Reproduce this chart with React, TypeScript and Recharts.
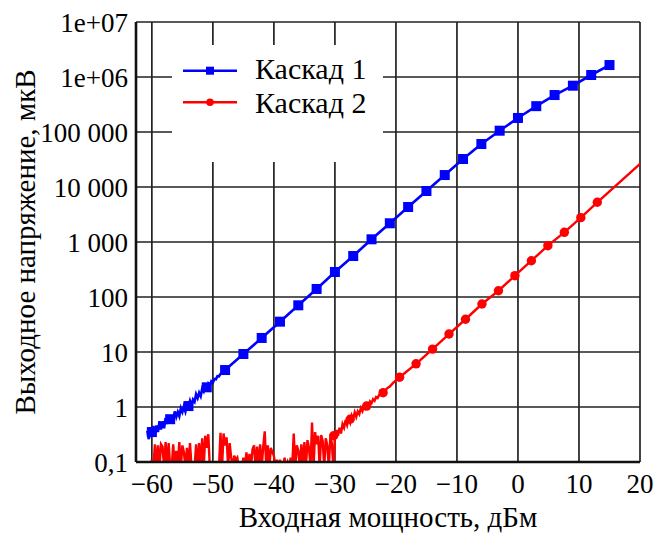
import React from 'react';
import { LineChart, Line, XAxis, YAxis, CartesianGrid, Legend, Label } from 'recharts';

const FONT = 'Liberation Serif';
const BLUE = '#0000ff';
const RED = '#ff0000';

// Axis ticks and their printed labels
const xTicks = [-60, -50, -40, -30, -20, -10, 0, 10, 20];
const xTickLabels = ['−60', '−50', '−40', '−30', '−20', '−10', '0', '10', '20'];
const yTicks = [0.1, 1, 10, 100, 1000, 10000, 100000, 1e6, 1e7];
const yTickLabels = ['0,1', '1', '10', '100', '1 000', '10 000', '100 000', '1e+06', '1e+07'];

// Sampling step of the dense (noisy) parts of the traces, dBm
const traceStep = 0.25;

// Каскад 1 — measured points (input power, dBm / output voltage, µV)
const cascade1Power = [-60, -57, -54, -51, -48, -45, -42, -39, -36, -33, -30, -27, -24, -21, -18, -15, -12, -9, -6, -3, 0, 3, 6, 9, 12, 15];
const cascade1Voltage = [0.35, 0.6, 1.04, 2.28, 4.7, 9.2, 18, 35.6, 70.6, 140, 285, 556, 1120, 2190, 4330, 8460, 16500, 32300, 60500, 105600, 180000, 295000, 470000, 695000, 1087000, 1650000];

// Каскад 1 — noisy low-level trace from -60.75 to -48 dBm
const cascade1NoiseStart = -60.75;
const cascade1Noise = [
  0.37, 0.26, 0.43, 0.3, 0.45, 0.31, 0.46, 0.35, 0.55, 0.39, 0.55, 0.41,
  0.63, 0.49, 0.68, 0.5, 0.71, 0.58, 0.83, 0.66, 0.81, 0.68, 0.95, 0.81,
  1.02, 0.83, 1.1, 1.0, 1.29, 1.06, 1.36, 1.24, 1.7, 1.45, 1.81, 1.57,
  2.16, 1.92, 2.4, 2.14, 2.67, 2.45, 2.93, 2.77, 3.23, 3.2, 3.63, 3.61,
  4.0, 4.06, 4.46, 4.7,
];

// Каскад 2 — measured points
const cascade2Power = [-30.2, -27.5, -24.8, -22.1, -19.4, -16.7, -14.0, -11.3, -8.6, -5.9, -3.2, -0.5, 2.2, 4.9, 7.6, 10.3, 13.0];
const cascade2Voltage = [0.3, 0.6, 1.04, 1.82, 3.47, 6.1, 11.3, 21.2, 39.4, 74.6, 130, 244, 457, 857, 1500, 2770, 5270];

// Каскад 2 — noise floor and noisy rise, -60.25 … -22 dBm
const cascade2NoiseStart = -60.25;
const cascade2Noise = [
  0.08,
  0.11, 0.08, 0.21, 0.08,
  0.2, 0.08, 0.21, 0.19,
  0.08, 0.23, 0.08, 0.22,
  0.08, 0.08, 0.21, 0.08,
  0.16, 0.08, 0.23, 0.08,
  0.2, 0.15, 0.08, 0.18,
  0.08, 0.22, 0.08, 0.08,
  0.08, 0.21, 0.08, 0.22,
  0.08, 0.27, 0.08, 0.3,
  0.18, 0.32, 0.08, 0.08,
  0.08, 0.08, 0.08, 0.08,
  0.08, 0.34, 0.08, 0.33,
  0.2, 0.28, 0.08, 0.22,
  0.12, 0.08, 0.13, 0.11,
  0.12, 0.08, 0.08, 0.08,
  0.12, 0.08, 0.15, 0.08,
  0.14, 0.08, 0.17, 0.2,
  0.08, 0.19, 0.08, 0.21,
  0.08, 0.19, 0.36, 0.08,
  0.2, 0.08, 0.18, 0.15,
  0.13, 0.08, 0.11, 0.08,
  0.11, 0.08, 0.08, 0.12,
  0.08, 0.1, 0.08, 0.12,
  0.08, 0.33, 0.08, 0.2,
  0.16, 0.08, 0.21, 0.08,
  0.23, 0.08, 0.25, 0.18,
  0.08, 0.52, 0.08, 0.35,
  0.21, 0.3, 0.08, 0.31,
  0.24, 0.08, 0.27, 0.2,
  0.08, 0.29, 0.22, 0.08,
  // rise out of the noise
  0.28, 0.38, 0.3, 0.42, 0.33, 0.49, 0.42, 0.58, 0.47, 0.62, 0.52, 0.71,
  0.62, 0.8, 0.66, 0.83, 0.74, 0.96, 0.84, 1.04, 0.95, 1.13, 1.03, 1.26,
  1.17, 1.39, 1.3, 1.52, 1.46, 1.66, 1.64, 1.82, 1.78,
];
const cascade2TailPower = [-21.5, -21, -20.5, -20];
const cascade2TailVoltage = [2.16, 2.36, 2.72, 3.06];
const cascade2EndPower = 20;
const cascade2EndVoltage = 26200;

type Pt = { x: number; y: number };

const zip = (xs: number[], ys: number[]): Pt[] => xs.map((x, i) => ({ x, y: ys[i] }));
const dense = (start: number, ys: number[]): Pt[] => ys.map((y, i) => ({ x: start + i * traceStep, y }));

const cascade1Markers = zip(cascade1Power, cascade1Voltage);
const cascade1NoisePts = dense(cascade1NoiseStart, cascade1Noise);
const cascade1Trace = [
  ...cascade1NoisePts,
  ...cascade1Markers.filter((p) => p.x > cascade1NoisePts[cascade1NoisePts.length - 1].x),
];

const cascade2Markers = zip(cascade2Power, cascade2Voltage);
const cascade2NoisePts = dense(cascade2NoiseStart, cascade2Noise);
const cascade2Trace = [
  ...cascade2NoisePts,
  ...zip(cascade2TailPower, cascade2TailVoltage),
  ...cascade2Markers.filter((p) => p.x > -20),
  { x: cascade2EndPower, y: cascade2EndVoltage },
];

const fmtX = (v: number) => {
  const i = xTicks.indexOf(v);
  return i >= 0 ? xTickLabels[i] : String(v);
};
const fmtY = (v: number) => {
  const i = yTicks.findIndex((t) => Math.abs(t - v) / t < 1e-6);
  return i >= 0 ? yTickLabels[i] : String(v);
};

const SquareDot = (p: any) => {
  if (p.cx == null || p.cy == null) return <g key={p.key ?? p.index} />;
  return <rect key={p.key ?? p.index} x={p.cx - 5} y={p.cy - 5} width={10} height={10} fill={BLUE} />;
};
const RoundDot = (p: any) => {
  if (p.cx == null || p.cy == null) return <g key={p.key ?? p.index} />;
  return <circle key={p.key ?? p.index} cx={p.cx} cy={p.cy} r={4.7} fill={RED} />;
};

const LegendBox = () => (
  <svg width={211} height={117} style={{ display: 'block' }}>
    <rect x={0} y={0} width={211} height={117} fill="#fff" />
    <line x1={11} x2={65} y1={25.7} y2={25.7} stroke={BLUE} strokeWidth={2.5} />
    <rect x={34} y={21.7} width={8} height={8} fill={BLUE} />
    <text x={83} y={34} fontFamily={FONT} fontSize={30} fill="#000">Каскад 1</text>
    <line x1={11} x2={65} y1={57.3} y2={57.3} stroke={RED} strokeWidth={2.5} />
    <circle cx={38} cy={57.3} r={3.8} fill={RED} />
    <text x={83} y={67.5} fontFamily={FONT} fontSize={30} fill="#000">Каскад 2</text>
  </svg>
);

const tickStyle = { fontFamily: FONT, fontSize: 27, fill: '#000' };
const titleStyle = { fontFamily: FONT, fontSize: 29, fill: '#000' };
const frame = { stroke: '#111', strokeWidth: 2.6 };

export default function App() {
  return (
    <div style={{ position: 'absolute', left: 0, top: 0, width: 654, height: 533, background: '#fff' }}>
      <LineChart width={654} height={533} margin={{ top: 22, right: 14, bottom: 0, left: 0 }}>
        <CartesianGrid stroke="#222" strokeWidth={1.7} />
        <XAxis
          type="number"
          dataKey="x"
          domain={[-62.6, 20]}
          allowDataOverflow
          ticks={xTicks}
          interval={0}
          tickFormatter={fmtX}
          tick={tickStyle}
          tickLine={false}
          tickSize={0}
          tickMargin={12}
          axisLine={frame}
          height={71}
        >
          <Label
            value="Входная мощность, дБм"
            position="insideBottom"
            offset={6}
            fontFamily={FONT}
            fontSize={29}
            fill="#000"
            style={titleStyle}
          />
        </XAxis>
        <XAxis
          xAxisId="top"
          orientation="top"
          type="number"
          domain={[-62.6, 20]}
          allowDataOverflow
          tick={false}
          tickLine={false}
          axisLine={frame}
          height={0}
        />
        <YAxis
          type="number"
          scale="log"
          dataKey="y"
          domain={[0.1, 1e7]}
          allowDataOverflow
          ticks={yTicks}
          interval={0}
          tickFormatter={fmtY}
          tick={tickStyle}
          tickLine={false}
          tickSize={0}
          tickMargin={8}
          axisLine={frame}
          width={136}
        >
          <Label
            value="Выходное напряжение, мкВ"
            angle={-90}
            position="insideLeft"
            offset={25}
            fontFamily={FONT}
            fontSize={29}
            fill="#000"
            style={{ ...titleStyle, textAnchor: 'middle' }}
          />
        </YAxis>
        <YAxis
          yAxisId="right"
          orientation="right"
          type="number"
          domain={[0, 1]}
          tick={false}
          tickLine={false}
          axisLine={frame}
          width={0}
        />
        <Line data={cascade2Trace} dataKey="y" type="linear" stroke={RED} strokeWidth={2.4} dot={false} isAnimationActive={false} />
        <Line data={cascade2Markers} dataKey="y" type="linear" stroke="none" dot={RoundDot} isAnimationActive={false} />
        <Line data={cascade1Trace} dataKey="y" type="linear" stroke={BLUE} strokeWidth={2.6} dot={false} isAnimationActive={false} />
        <Line data={cascade1Markers} dataKey="y" type="linear" stroke="none" dot={SquareDot} isAnimationActive={false} />
        <Legend
          layout="vertical"
          align="center"
          verticalAlign="middle"
          content={() => <LegendBox />}
          wrapperStyle={{ left: 172, top: 45, width: 211, height: 117 }}
        />
      </LineChart>
    </div>
  );
}
